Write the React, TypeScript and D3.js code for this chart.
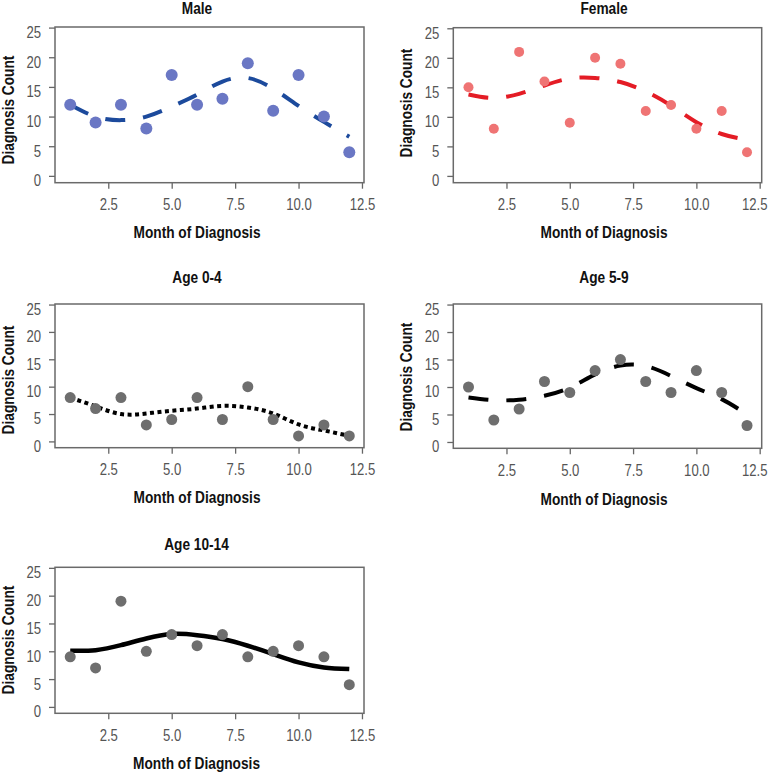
import { useEffect, useRef } from 'react';
import * as d3 from 'd3';

// Monthly diagnosis counts
const months = [1, 2, 3, 4, 5, 6, 7, 8, 9, 10, 11, 12];
const maleCounts = [12, 9, 12, 8, 17, 12, 13, 19, 11, 17, 10, 4];
const femaleCounts = [15, 8, 21, 16, 9, 20, 19, 11, 12, 8, 11, 4];
const age0to4Counts = [8, 6, 8, 3, 4, 8, 4, 10, 4, 1, 3, 1];
const age5to9Counts = [10, 4, 6, 11, 9, 13, 15, 11, 9, 13, 9, 3];
const age10to14Counts = [9, 7, 19, 10, 13, 11, 13, 9, 10, 11, 9, 4];

// Smoothed trend values at each month (estimated from the drawn curves)
const maleSmooth = [12.0, 10.0, 9.4, 10.0, 11.7, 13.7, 15.9, 16.5, 14.7, 11.8, 9.1, 6.6];
const femaleSmooth = [13.8, 13.2, 13.9, 15.3, 16.5, 16.6, 15.9, 14.3, 11.9, 9.1, 7.1, 6.1];
const age0to4Smooth = [8.0, 6.4, 5.0, 5.1, 5.6, 6.0, 6.5, 6.2, 5.1, 3.1, 2.0, 1.0];
const age5to9Smooth = [8.1, 7.6, 7.7, 8.4, 9.9, 12.3, 13.9, 13.8, 12.0, 9.8, 7.8, 5.0];
const age10to14Smooth = [10.1, 10.2, 11.1, 12.3, 13.1, 12.9, 12.2, 11.0, 9.5, 8.0, 7.1, 6.8];

const panelTitles = ['Male', 'Female', 'Age 0-4', 'Age 5-9', 'Age 10-14'];
const xTicks = [2.5, 5, 7.5, 10, 12.5];
const yTicks = [0, 5, 10, 15, 20, 25];

const W = 769;
const H = 774;
const fontFamily = "'Liberation Sans', Arial, Helvetica, sans-serif";
const tickSqueeze = 0.82; // condensed look of the original typeface
const titleSqueeze = 0.83;

interface Panel {
  title: string;
  counts: number[];
  smooth: number[];
  pointColor: string;
  pointR: number;
  lineColor: string;
  dash: string | null;
  lineWidth: number;
}

const panels: Panel[] = [
  { title: panelTitles[0], counts: maleCounts, smooth: maleSmooth, pointColor: '#6a77c4', pointR: 6, lineColor: '#1c4a9c', dash: '20,18', lineWidth: 4 },
  { title: panelTitles[1], counts: femaleCounts, smooth: femaleSmooth, pointColor: '#ef7474', pointR: 5, lineColor: '#e41c25', dash: '20,18', lineWidth: 4 },
  { title: panelTitles[2], counts: age0to4Counts, smooth: age0to4Smooth, pointColor: '#6e6e6e', pointR: 5.5, lineColor: '#000', dash: '4,3.5', lineWidth: 4 },
  { title: panelTitles[3], counts: age5to9Counts, smooth: age5to9Smooth, pointColor: '#6e6e6e', pointR: 5.5, lineColor: '#000', dash: '20,18', lineWidth: 4 },
  { title: panelTitles[4], counts: age10to14Counts, smooth: age10to14Smooth, pointColor: '#6e6e6e', pointR: 5.5, lineColor: '#000', dash: null, lineWidth: 4.5 },
];

// Where each small multiple sits on the page
const layouts = [
  { left: 55, right: 364, top: 27, bottom: 182.7, titleX: 197, titleY: 14, xlabY: 237.5, ylabX: 14, ylabY: 110 },
  { left: 453.3, right: 761.7, top: 27.7, bottom: 182.7, titleX: 604, titleY: 14, xlabY: 238, ylabX: 411.5, ylabY: 103 },
  { left: 55, right: 364, top: 304, bottom: 447.7, titleX: 197, titleY: 283, xlabY: 503, ylabX: 14, ylabY: 380 },
  { left: 453.3, right: 761.7, top: 304, bottom: 448.3, titleX: 604, titleY: 283, xlabY: 505, ylabX: 411.5, ylabY: 377 },
  { left: 55, right: 364, top: 567.3, bottom: 713.3, titleX: 196.5, titleY: 550, xlabY: 769, ylabX: 14, ylabY: 640 },
];

export default function App() {
  const svgRef = useRef<SVGSVGElement>(null);

  useEffect(() => {
    if (!svgRef.current) return;
    const svg = d3.select(svgRef.current);
    svg.selectAll('*').remove();

    const boldText = (g: d3.Selection<SVGGElement, unknown, null, undefined>, transform: string, label: string) =>
      g
        .append('text')
        .attr('transform', transform)
        .attr('text-anchor', 'middle')
        .attr('font-family', fontFamily)
        .attr('font-weight', 700)
        .attr('font-size', 16.5)
        .attr('fill', '#111')
        .text(label);

    panels.forEach((p, i) => {
      const L = layouts[i];
      const x = d3.scaleLinear().domain([0.4, 12.58]).range([L.left, L.right]);
      const y = d3.scaleLinear().domain([-1.15, 25.1]).range([L.bottom, L.top]);
      const g = svg.append('g');

      // x axis
      const xAxis = g
        .append('g')
        .attr('transform', `translate(0, ${L.bottom})`)
        .call(
          d3.axisBottom(x).tickValues(xTicks).tickFormat(d3.format('.1f')).tickSize(6).tickPadding(10)
        );
      // y axis
      const yAxis = g
        .append('g')
        .attr('transform', `translate(${L.left}, 0)`)
        .call(d3.axisLeft(y).tickValues(yTicks).tickSize(6).tickPadding(11));

      [xAxis, yAxis].forEach((ax) => {
        ax.select('.domain').remove();
        ax.selectAll('line').attr('stroke', '#666').attr('stroke-width', 1.3);
        ax.selectAll('text')
          .attr('font-family', fontFamily)
          .attr('font-size', 16)
          .attr('fill', '#555')
          .attr('transform', `scale(${tickSqueeze},1)`);
      });
      yAxis.selectAll('text').attr('dy', '0.62em');

      // keep the last x tick labels inside the page
      xAxis.selectAll<SVGTextElement, number>('text').each(function (d) {
        const half = (this.getComputedTextLength() * tickSqueeze) / 2;
        const overflow = x(d) + half - (W - 2);
        if (overflow > 0) d3.select(this).attr('x', -overflow / tickSqueeze);
      });

      // frame
      g.append('rect')
        .attr('x', L.left)
        .attr('y', L.top)
        .attr('width', L.right - L.left)
        .attr('height', L.bottom - L.top)
        .attr('fill', 'none')
        .attr('stroke', '#6a6a6a')
        .attr('stroke-width', 1.5);

      // smoothed trend
      const line = d3
        .line<number>()
        .x((_, j) => x(months[j]))
        .y((d) => y(d))
        .curve(d3.curveNatural);

      g.append('path')
        .datum(p.smooth)
        .attr('d', line)
        .attr('fill', 'none')
        .attr('stroke', p.lineColor)
        .attr('stroke-width', p.lineWidth)
        .attr('stroke-dasharray', p.dash ?? null);

      // points
      g.selectAll('circle.pt')
        .data(p.counts)
        .enter()
        .append('circle')
        .attr('class', 'pt')
        .attr('cx', (_, j) => x(months[j]))
        .attr('cy', (d) => y(d))
        .attr('r', p.pointR)
        .attr('fill', p.pointColor);

      // titles
      boldText(g, `translate(${L.titleX}, ${L.titleY}) scale(${titleSqueeze},1)`, p.title);
      boldText(g, `translate(${L.titleX}, ${L.xlabY}) scale(${titleSqueeze},1)`, 'Month of Diagnosis');
      boldText(g, `translate(${L.ylabX}, ${L.ylabY}) rotate(-90) scale(${titleSqueeze},1)`, 'Diagnosis Count');
    });
  }, []);

  return (
    <svg
      ref={svgRef}
      width={W}
      height={H}
      style={{ position: 'absolute', left: 0, top: 0, background: '#fff' }}
    />
  );
}
